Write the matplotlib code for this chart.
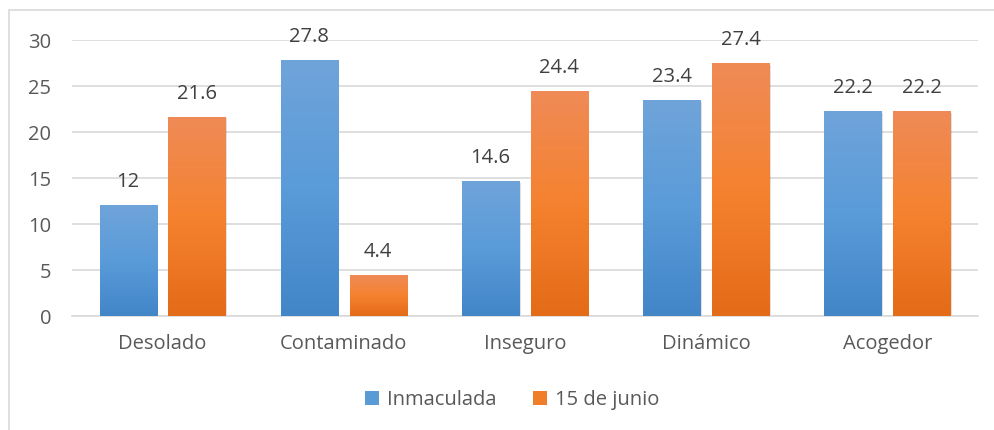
import numpy as np
import matplotlib.pyplot as plt
from matplotlib.colors import LinearSegmentedColormap
from matplotlib.patches import Rectangle, Patch

plt.rcParams['font.family'] = ['Open Sans', 'DejaVu Sans']

categories = ['Desolado', 'Contaminado', 'Inseguro', 'Dinámico', 'Acogedor']
inmaculada = [12, 27.8, 14.6, 23.4, 22.2]
junio = [21.6, 4.4, 24.4, 27.4, 22.2]
labels_a = ['12', '27.8', '14.6', '23.4', '22.2']
labels_b = ['21.6', '4.4', '24.4', '27.4', '22.2']

blue_cmap = LinearSegmentedColormap.from_list('b', ['#4286c8', '#5a9bd9', '#6fa4da'])
orange_cmap = LinearSegmentedColormap.from_list('o', ['#e46b18', '#f5822f', '#ef8b57'])

FS = 14.5

fig = plt.figure(figsize=(9.94, 4.30), dpi=100)
ax = fig.add_axes([72 / 994, 1 - 316 / 430, 906 / 994, 276 / 430])

# outer border
fig.patches.append(Rectangle((9 / 994, -0.01), 1.0, 1 - 10 / 430 + 0.01,
                             transform=fig.transFigure, fill=False,
                             edgecolor='#d9d9d9', linewidth=1.2))

x = np.arange(len(categories))
w = 0.315
off = 0.19
grad = np.linspace(0, 1, 256).reshape(-1, 1)

def draw_bars(xs, vals, cmap, labels):
    for xi, v, lab in zip(xs, vals, labels):
        # soft shadow
        ax.add_patch(Rectangle((xi - w / 2 + 0.008, -0.15), w, v + 0.05,
                               facecolor='#000000', alpha=0.12, linewidth=0, zorder=2))
        ax.imshow(grad, cmap=cmap, origin='lower', aspect='auto',
                  extent=(xi - w / 2, xi + w / 2, 0, v), zorder=3)
        ax.annotate(lab, (xi, v), xytext=(0, 17), textcoords='offset points',
                    ha='center', va='center', fontsize=FS, color='#404040')

ax.set_xlim(-0.5, len(categories) - 0.5)
ax.set_ylim(0, 30)
draw_bars(x - off, inmaculada, blue_cmap, labels_a)
draw_bars(x + off, junio, orange_cmap, labels_b)
ax.set_xlim(-0.5, len(categories) - 0.5)
ax.set_ylim(0, 30)

ax.set_yticks([0, 5, 10, 15, 20, 25, 30])
ax.set_xticks(x)
ax.set_xticklabels(categories)
ax.yaxis.grid(True, color='#d9d9d9', linewidth=1.2, zorder=0)
ax.set_axisbelow(True)
for s in ['top', 'right', 'left']:
    ax.spines[s].set_visible(False)
ax.spines['bottom'].set_color('#d9d9d9')
ax.spines['bottom'].set_linewidth(1.2)
ax.tick_params(axis='both', length=0, labelsize=FS, labelcolor='#595959')
ax.tick_params(axis='y', pad=15)
ax.tick_params(axis='x', pad=13)

handles = [Patch(facecolor='#5b9bd5', label='Inmaculada'),
           Patch(facecolor='#f07d2a', label='15 de junio')]
fig.legend(handles=handles, loc='center', bbox_to_anchor=(512 / 994, 1 - 400 / 430),
           ncol=2, frameon=False, fontsize=FS, handlelength=0.7, handleheight=0.7,
           handletextpad=0.4, columnspacing=1.8, labelcolor='#595959')

fig.savefig('out.png', dpi=100)
